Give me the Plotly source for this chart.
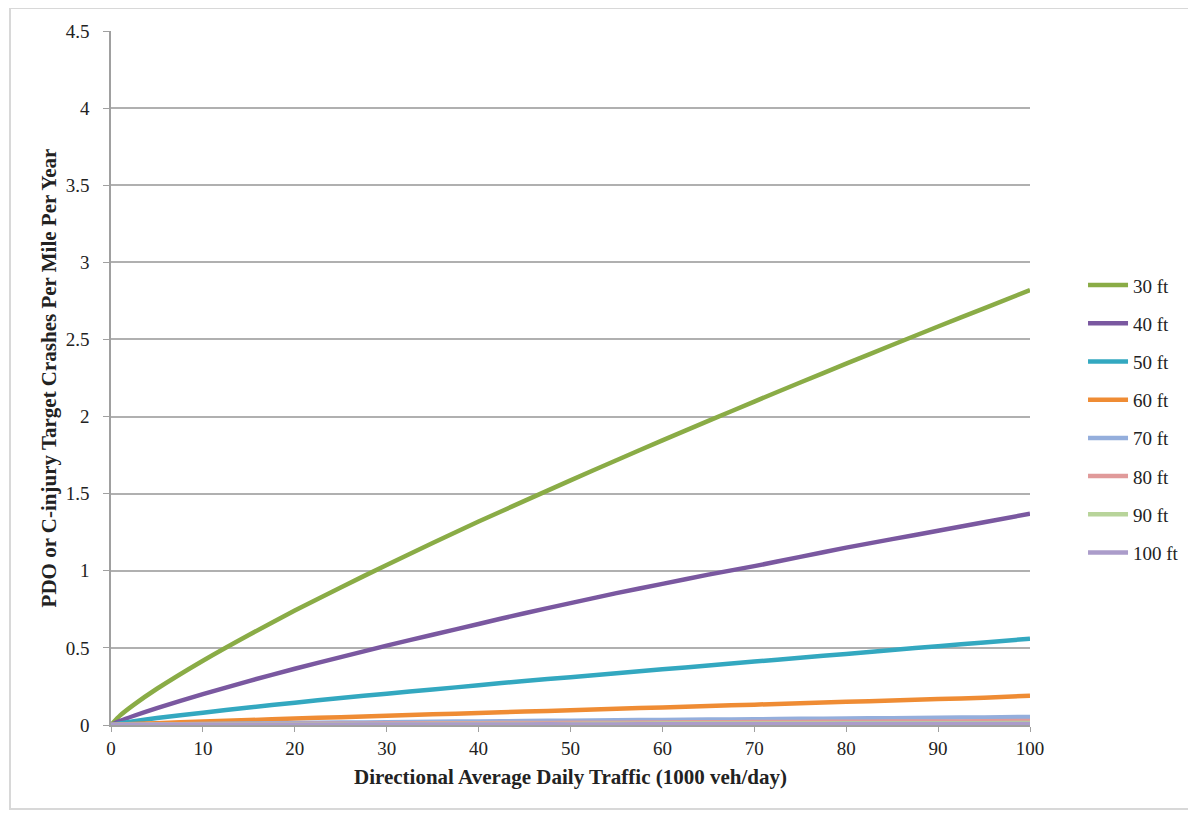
import plotly.graph_objects as go

x_traffic = [0, 1, 2.5, 5, 10, 15, 20, 25, 30, 35, 40, 45, 50, 55, 60, 65, 70, 75, 80, 85, 90, 95, 100]

ft30 = [0, 0.062, 0.132, 0.235, 0.417, 0.584, 0.742, 0.892, 1.038, 1.180, 1.319, 1.453, 1.586, 1.717, 1.846, 1.972, 2.097, 2.221, 2.343, 2.464, 2.584, 2.702, 2.82]
ft40 = [0, 0.027, 0.06, 0.11, 0.20, 0.285, 0.365, 0.44, 0.515, 0.585, 0.655, 0.725, 0.79, 0.855, 0.915, 0.975, 1.03, 1.09, 1.15, 1.205, 1.26, 1.315, 1.37]
ft50 = [0, 0.010, 0.024, 0.045, 0.08, 0.113, 0.145, 0.175, 0.203, 0.23, 0.258, 0.285, 0.31, 0.336, 0.361, 0.386, 0.411, 0.436, 0.461, 0.486, 0.511, 0.535, 0.56]
ft60 = [0, 0.003, 0.006, 0.012, 0.022, 0.032, 0.042, 0.051, 0.060, 0.069, 0.078, 0.087, 0.096, 0.105, 0.114, 0.123, 0.132, 0.141, 0.150, 0.159, 0.168, 0.177, 0.19]
ft70 = [0, 0.001, 0.002, 0.004, 0.007, 0.010, 0.013, 0.016, 0.018, 0.021, 0.023, 0.026, 0.028, 0.031, 0.033, 0.035, 0.037, 0.040, 0.042, 0.044, 0.047, 0.049, 0.052]
ft80 = [0, 0.0005, 0.001, 0.002, 0.004, 0.005, 0.007, 0.008, 0.009, 0.011, 0.012, 0.013, 0.014, 0.015, 0.017, 0.018, 0.019, 0.020, 0.021, 0.022, 0.023, 0.024, 0.026]
ft90 = [0, 0.0003, 0.0005, 0.001, 0.002, 0.003, 0.004, 0.004, 0.005, 0.006, 0.006, 0.007, 0.007, 0.008, 0.009, 0.009, 0.010, 0.010, 0.011, 0.011, 0.012, 0.012, 0.013]
ft100 = [0, 0.0002, 0.0005, 0.001, 0.001, 0.002, 0.002, 0.002, 0.003, 0.003, 0.003, 0.004, 0.004, 0.004, 0.005, 0.005, 0.005, 0.005, 0.006, 0.006, 0.006, 0.007, 0.007]

series_names = ["30 ft", "40 ft", "50 ft", "60 ft", "70 ft", "80 ft", "90 ft", "100 ft"]
series_values = [ft30, ft40, ft50, ft60, ft70, ft80, ft90, ft100]
colors = ["#8aac46", "#7a58a0", "#33a8c0", "#ef8c34", "#94aedc", "#e09a9a", "#b8d49a", "#ab9cca"]

y_ticks = [0, 0.5, 1, 1.5, 2, 2.5, 3, 3.5, 4, 4.5]
y_tick_labels = ["0", "0.5", "1", "1.5", "2", "2.5", "3", "3.5", "4", "4.5"]
x_ticks = [0, 10, 20, 30, 40, 50, 60, 70, 80, 90, 100]

fig = go.Figure()
for name, vals, col in zip(series_names, series_values, colors):
    fig.add_trace(go.Scatter(x=x_traffic, y=vals, mode="lines", name=name,
                             legendgroup=name,
                             line=dict(color=col, width=4.5, shape="spline", smoothing=0.6)))

font_family = "Liberation Serif, Times New Roman, serif"
W, H = 1188, 802
L, T = 103, 23
PW, PH = 919, 694
fig.update_layout(
    width=W, height=H,
    paper_bgcolor="white", plot_bgcolor="white",
    margin=dict(l=L, r=W - L - PW, t=T, b=H - T - PH, autoexpand=False),
    font=dict(family=font_family, size=19, color="#222"),
    legend=dict(x=1.0577, y=0.661, xanchor="left", yanchor="top",
                font=dict(family=font_family, size=19, color="#222"),
                tracegroupgap=10.5, itemwidth=40, traceorder="grouped"),
    showlegend=True,
)
fig.update_xaxes(
    range=[0, 100], tickvals=x_ticks, showgrid=False,
    showline=True, linecolor="#a0a0a0", linewidth=1.5,
    ticks="outside", ticklen=5, tickcolor="#a0a0a0",
    tickfont=dict(family=font_family, size=19, color="#222"),
    title=dict(text="<b>Directional Average Daily Traffic (1000 veh/day)</b>",
               font=dict(family=font_family, size=21, color="#222"), standoff=12),
    zeroline=False,
)
fig.update_yaxes(
    range=[0, 4.5], tickvals=y_ticks, ticktext=y_tick_labels,
    showgrid=True, gridcolor="#b0b0b0", gridwidth=1.5,
    showline=True, linecolor="#a0a0a0", linewidth=1.5,
    ticks="outside", ticklen=6, tickcolor="#a0a0a0", ticklabelstandoff=10,
    tickfont=dict(family=font_family, size=19, color="#222"),
    title=dict(text="<b>PDO or C-injury Target Crashes Per Mile Per Year</b>",
               font=dict(family=font_family, size=21, color="#222"), standoff=3),
    zeroline=False,
)
# outer frame (left, top, bottom edges; right edge runs off the page)
fx0 = (10 - 111) / PW
fx1 = (1200 - 111) / PW
fy0 = (725 - 809) / PH
fy1 = (725 - 8) / PH
fig.add_shape(type="path", xref="paper", yref="paper",
              path=f"M {fx1},{fy1} L {fx0},{fy1} L {fx0},{fy0} L {fx1},{fy0}",
              line=dict(color="#d8d8d8", width=2), layer="below")

fig.write_html("out.html")
